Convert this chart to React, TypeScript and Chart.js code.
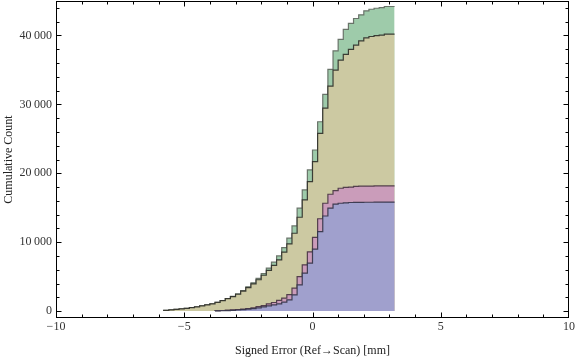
import React, { useEffect, useRef } from "react";
import { Chart, registerables } from "chart.js";

Chart.register(...registerables);

// Bin edges (mm)
const binEdges = [
  -5.8, -5.6, -5.4, -5.2, -5.0, -4.8, -4.6, -4.4, -4.2, -4.0,
  -3.8, -3.6, -3.4, -3.2, -3.0, -2.8, -2.6, -2.4, -2.2, -2.0,
  -1.8, -1.6, -1.4, -1.2, -1.0, -0.8, -0.6, -0.4, -0.2, 0.0,
  0.2, 0.4, 0.6, 0.8, 1.0, 1.2, 1.4, 1.6, 1.8, 2.0,
  2.2, 2.4, 2.6, 2.8, 3.0, 3.2,
];

// Cumulative counts per bin (one value per bin)
const seriesGreen = [
  40, 120, 190, 260, 330, 400, 500, 620, 760, 900,
  1060, 1280, 1520, 1800, 2130, 2500, 2980, 3520, 4100, 4750,
  5450, 6250, 7100, 8010, 9220, 10580, 12360, 14930, 17580, 20480,
  23380, 27480, 31450, 35070, 37770, 39420, 40870, 41740, 42460, 42990,
  43570, 43800, 43950, 44050, 44200,
];
const seriesOlive = [
  40, 120, 190, 260, 330, 400, 500, 620, 760, 900,
  1060, 1280, 1520, 1800, 2100, 2450, 2900, 3400, 3950, 4550,
  5200, 5900, 6650, 7430, 8550, 9750, 11300, 13620, 16130, 18780,
  21680, 25800, 29460, 32650, 34970, 36420, 37250, 37970, 38590, 39220,
  39650, 39850, 39970, 40040, 40190,
];
const seriesPink = [
  0, 0, 0, 0, 0, 0, 0, 0, 0, 0,
  20, 50, 90, 140, 190, 230, 300, 380, 470, 670,
  810, 1060, 1250, 1550, 1880, 2400, 3330, 5010, 6710, 8600,
  10700, 13400, 15650, 16960, 17480, 17830, 17950, 18000, 18100, 18130,
  18150, 18150, 18160, 18160, 18170,
];
const seriesBlue = [
  0, 0, 0, 0, 0, 0, 0, 0, 0, 0,
  10, 30, 50, 80, 120, 160, 210, 280, 360, 480,
  600, 750, 900, 1060, 1300, 1640, 2360, 3810, 5500, 6960,
  8990, 11540, 13800, 14930, 15510, 15650, 15720, 15760, 15780, 15790,
  15800, 15800, 15810, 15810, 15820,
];

const yTickValues = [0, 10000, 20000, 30000, 40000];
const xTickValues = [-10, -5, 0, 5, 10];

const FONT = '"Liberation Serif", "Times New Roman", serif';

function stepPoints(values: number[]) {
  const pts: { x: number; y: number }[] = [];
  const first = values.findIndex((v) => v > 0);
  if (first < 0) return pts;
  pts.push({ x: binEdges[first], y: 0 });
  for (let i = first; i < values.length; i++) {
    pts.push({ x: binEdges[i], y: values[i] });
  }
  pts.push({ x: binEdges[values.length], y: values[values.length - 1] });
  return pts;
}

function fmtNum(v: number) {
  const s = String(Math.abs(v)).replace(/\B(?=(\d{3})+(?!\d))/g, "\u2009");
  return (v < 0 ? "\u2212" : "") + s;
}

const frameTicks = {
  id: "frameTicks",
  afterDraw(chart: any) {
    const { ctx, chartArea: a } = chart;
    const xs = chart.scales.x;
    const ys = chart.scales.y;
    ctx.save();
    ctx.strokeStyle = "#000";
    ctx.lineWidth = 1;
    const L = Math.round(a.left) + 0.5;
    const R = Math.round(a.right) - 0.5;
    const T = Math.round(a.top) + 0.5;
    const B = Math.round(a.bottom) - 0.5;
    ctx.strokeRect(L, T, R - L, B - T);
    ctx.beginPath();
    for (let v = -9; v <= 9; v++) {
      const px = Math.round(xs.getPixelForValue(v)) + 0.5;
      const len = v % 5 === 0 ? 5 : 3;
      ctx.moveTo(px, B);
      ctx.lineTo(px, B - len);
      ctx.moveTo(px, T);
      ctx.lineTo(px, T + len);
    }
    for (let v = 0; v <= 44000; v += 2000) {
      const py = Math.round(ys.getPixelForValue(v)) + 0.5;
      const len = v % 10000 === 0 ? 5 : 3;
      ctx.moveTo(L, py);
      ctx.lineTo(L + len, py);
      ctx.moveTo(R, py);
      ctx.lineTo(R - len, py);
    }
    ctx.stroke();
    ctx.restore();
  },
};

export default function App() {
  const ref = useRef<HTMLCanvasElement | null>(null);
  useEffect(() => {
    if (!ref.current) return;
    const common = {
      stepped: "after" as const,
      pointRadius: 0,
      borderWidth: 1.2,
      fill: "origin",
      tension: 0,
    };
    const chart = new Chart(ref.current, {
      type: "line",
      data: {
        datasets: [
          {
            ...common,
            label: "D",
            data: stepPoints(seriesBlue),
            backgroundColor: "rgb(160,160,205)",
            borderColor: "rgba(50,50,70,0.9)",
          },
          {
            ...common,
            label: "C",
            data: stepPoints(seriesPink),
            backgroundColor: "rgb(202,156,186)",
            borderColor: "rgba(70,50,65,0.9)",
          },
          {
            ...common,
            label: "B",
            data: stepPoints(seriesOlive),
            backgroundColor: "rgb(204,201,162)",
            borderColor: "rgba(45,45,40,0.9)",
          },
          {
            ...common,
            label: "A",
            data: stepPoints(seriesGreen),
            backgroundColor: "rgb(158,203,170)",
            borderColor: "rgba(100,110,100,0.95)",
          },
        ],
      },
      options: {
        animation: false,
        responsive: true,
        maintainAspectRatio: false,
        layout: { padding: { top: 1, right: 7, left: 0, bottom: 0 } },
        plugins: {
          legend: { display: false },
          tooltip: { enabled: false },
        },
        scales: {
          x: {
            type: "linear",
            min: -10,
            max: 10,
            grid: { display: false, drawTicks: false },
            border: { display: false },
            afterBuildTicks: (s: any) => {
              s.ticks = xTickValues.map((v) => ({ value: v }));
            },
            ticks: {
              autoSkip: false,
              maxRotation: 0,
              padding: 2,
              color: "#333",
              font: { family: FONT, size: 12 },
              callback: (v: any) => fmtNum(Number(v)),
            },
            title: {
              display: true,
              text: "Signed Error (Ref\u2192Scan) [mm]",
              color: "#222",
              font: { family: FONT, size: 12, lineHeight: 1 },
              padding: { top: 0, bottom: 0 },
            },
            afterFit: (s: any) => {
              s.height = 39;
              s.paddingLeft = 0;
              s.paddingRight = 0;
              s.paddingTop = 0;
              s.paddingBottom = 0;
            },
          },
          y: {
            type: "linear",
            min: -1000,
            max: 45000,
            grid: { display: false, drawTicks: false },
            border: { display: false },
            afterBuildTicks: (s: any) => {
              s.ticks = yTickValues.map((v) => ({ value: v }));
            },
            ticks: {
              autoSkip: false,
              padding: 4,
              color: "#333",
              font: { family: FONT, size: 12 },
              callback: (v: any) => fmtNum(Number(v)),
            },
            title: {
              display: true,
              text: "Cumulative Count",
              color: "#222",
              font: { family: FONT, size: 12, lineHeight: 1 },
              padding: { top: 2.5, bottom: 0 },
            },
            afterFit: (s: any) => {
              s.width = 56;
              s.paddingLeft = 0;
              s.paddingRight = 0;
              s.paddingTop = 0;
              s.paddingBottom = 0;
            },
          },
        },
      },
      plugins: [frameTicks],
    } as any);
    return () => chart.destroy();
  }, []);
  return (
    <div
      style={{
        position: "fixed",
        left: 0,
        top: 0,
        width: 576,
        height: 357,
        background: "#fff",
      }}
    >
      <canvas ref={ref} />
    </div>
  );
}
